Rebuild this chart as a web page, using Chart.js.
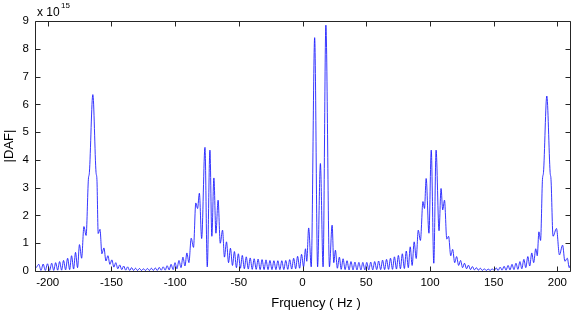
<!DOCTYPE html>
<html>
<head>
<meta charset="utf-8">
<script src="https://cdn.jsdelivr.net/npm/chart.js@4/dist/chart.umd.min.js"></script>
<style>
  html, body { margin: 0; padding: 0; background: #fff; }
  #grafico { display: block; }
</style>
</head>
<body>
<canvas id="grafico" width="572" height="310"></canvas>
<script>
// frecuencia (Hz) y |DAF| en unidades de 1e15
const freqHz = [
  -209.0, -207.0, -205.3, -203.6, -201.9, -200.2, -198.5, -196.9, -195.3, -193.8,
  -192.2, -190.7, -189.1, -187.6, -186.0, -184.4, -182.8, -181.3, -179.7, -178.2,
  -176.6, -175.1, -173.4, -171.6, -169.9, -168.1, -167.3, -164.6, -162.1, -161.4,
  -160.4, -159.0, -157.5, -155.9, -154.3, -152.8, -151.2, -149.7, -148.1, -146.6,
  -145.0, -143.5, -141.9, -140.4, -138.8, -137.3, -135.7, -134.2, -132.6, -131.1,
  -129.5, -128.0, -126.4, -124.9, -123.3, -121.8, -120.2, -118.7, -117.1, -115.6,
  -114.0, -112.5, -110.9, -109.4, -107.8, -106.3, -104.7, -103.2, -101.6, -100.1,
  -98.6, -97.0, -95.4, -93.9, -92.3, -90.8, -89.2, -87.4, -85.6, -83.8,
  -82.4, -81.0, -79.2, -76.6, -74.8, -72.7, -71.2, -69.6, -68.0, -66.3,
  -64.6, -62.8, -61.3, -59.7, -58.1, -56.6, -55.0, -53.5, -51.9, -50.4,
  -48.8, -47.3, -45.7, -44.2, -42.6, -41.1, -39.5, -38.0, -36.4, -34.9,
  -33.3, -31.8, -30.2, -28.7, -27.1, -25.6, -24.0, -22.5, -20.9, -19.4,
  -17.8, -16.3, -14.7, -13.2, -11.6, -10.1, -8.5, -7.0, -5.4, -3.9,
  -2.3, -0.8, 0.8, 2.3, 3.3, 4.8, 6.8, 9.5, 11.8, 14.0,
  16.1, 18.3, 21.1, 23.2, 24.5, 25.8, 27.3, 28.9, 30.3, 31.8,
  33.4, 34.9, 36.5, 38.0, 39.6, 41.1, 42.7, 44.2, 45.8, 47.3,
  48.9, 50.4, 52.0, 53.5, 55.1, 56.6, 58.2, 59.7, 61.3, 62.8,
  64.4, 65.9, 67.5, 69.0, 70.6, 72.1, 73.7, 75.2, 76.8, 78.3,
  79.9, 81.4, 83.0, 84.5, 86.0, 87.6, 89.2, 90.8, 92.5, 94.5,
  95.7, 97.0, 99.2, 101.0, 103.0, 104.8, 107.1, 108.7, 110.0, 111.4,
  113.2, 114.6, 116.3, 117.8, 119.4, 120.9, 122.5, 124.0, 125.6, 127.1,
  128.7, 130.2, 131.8, 133.3, 134.9, 136.4, 138.0, 139.5, 141.1, 142.6,
  144.2, 145.7, 147.3, 148.8, 150.4, 152.0, 153.5, 155.1, 156.6, 158.2,
  159.7, 161.3, 162.8, 164.4, 165.9, 167.5, 169.0, 170.6, 172.1, 173.7,
  175.2, 176.8, 178.3, 179.9, 181.4, 183.0, 184.2, 185.5, 186.8, 188.3,
  189.1, 191.7, 194.3, 195.0, 196.6, 199.3, 201.6, 204.1, 205.9, 207.8,
  209.3, 210.0
];

const dafE15 = [
  0.12, 0.24, 0.02, 0.25, 0.02, 0.26, 0.02, 0.28, 0.02, 0.30,
  0.03, 0.34, 0.03, 0.38, 0.04, 0.46, 0.05, 0.55, 0.07, 0.67,
  0.12, 0.95, 0.46, 1.60, 1.28, 3.30, 3.55, 6.35, 3.55, 3.30,
  1.35, 1.50, 0.62, 0.83, 0.36, 0.55, 0.24, 0.40, 0.14, 0.30,
  0.08, 0.22, 0.05, 0.18, 0.03, 0.15, 0.02, 0.12, 0.02, 0.10,
  0.02, 0.09, 0.02, 0.08, 0.02, 0.09, 0.02, 0.10, 0.02, 0.11,
  0.02, 0.13, 0.03, 0.15, 0.03, 0.19, 0.04, 0.24, 0.05, 0.30,
  0.08, 0.38, 0.12, 0.50, 0.18, 0.65, 0.30, 1.18, 0.85, 2.45,
  2.25, 2.80, 1.17, 4.45, 0.15, 4.35, 1.25, 3.35, 1.36, 2.55,
  1.00, 1.47, 0.50, 1.05, 0.30, 0.82, 0.20, 0.70, 0.12, 0.62,
  0.10, 0.56, 0.08, 0.51, 0.07, 0.47, 0.06, 0.44, 0.06, 0.43,
  0.05, 0.41, 0.05, 0.40, 0.05, 0.38, 0.05, 0.37, 0.05, 0.37,
  0.05, 0.37, 0.05, 0.38, 0.06, 0.41, 0.07, 0.46, 0.08, 0.53,
  0.10, 0.60, 0.15, 0.80, 0.35, 1.55, 0.15, 8.40, 0.15, 3.87,
  0.15, 8.85, 0.15, 1.65, 0.30, 0.75, 0.10, 0.50, 0.06, 0.44,
  0.05, 0.37, 0.04, 0.34, 0.04, 0.32, 0.04, 0.31, 0.04, 0.31,
  0.04, 0.31, 0.04, 0.32, 0.04, 0.34, 0.05, 0.36, 0.05, 0.39,
  0.05, 0.42, 0.06, 0.46, 0.06, 0.51, 0.07, 0.56, 0.08, 0.62,
  0.09, 0.72, 0.12, 0.87, 0.20, 1.05, 0.45, 1.47, 1.10, 2.50,
  2.25, 3.33, 1.36, 4.35, 0.28, 4.35, 1.45, 2.97, 2.20, 2.55,
  1.15, 1.25, 0.55, 0.78, 0.30, 0.52, 0.20, 0.38, 0.12, 0.28,
  0.08, 0.21, 0.05, 0.16, 0.04, 0.12, 0.03, 0.10, 0.02, 0.08,
  0.02, 0.07, 0.02, 0.08, 0.02, 0.11, 0.02, 0.14, 0.03, 0.17,
  0.03, 0.20, 0.04, 0.24, 0.05, 0.28, 0.06, 0.34, 0.08, 0.42,
  0.12, 0.52, 0.18, 0.65, 0.30, 0.80, 0.55, 1.41, 1.10, 3.30,
  3.55, 6.30, 3.55, 3.30, 1.25, 1.53, 0.58, 0.93, 0.35, 0.46,
  0.12, 0.20
];

const xTicks = [-200, -150, -100, -50, 0, 50, 100, 150, 200];
const yTicks = [0, 1, 2, 3, 4, 5, 6, 7, 8, 9];

const fuente = "'Liberation Sans', Arial, Helvetica, sans-serif";

// caja estilo matlab con marcas hacia dentro
const cajaEjes = {
  id: "cajaEjes",
  afterDatasetsDraw(chart) {
    const { ctx, chartArea: a, scales } = chart;
    const izq = Math.floor(a.left) + 0.5;
    const der = Math.floor(a.right) + 0.5;
    const arr = Math.floor(a.top) + 0.5;
    const aba = Math.floor(a.bottom) + 0.5;
    const largo = 5;

    ctx.save();
    ctx.strokeStyle = "#262626";
    ctx.lineWidth = 1;
    ctx.beginPath();
    ctx.moveTo(izq, arr); ctx.lineTo(der, arr); ctx.lineTo(der, aba);
    ctx.lineTo(izq, aba); ctx.closePath();

    scales.x.ticks.forEach((t) => {
      const px = Math.round(scales.x.getPixelForValue(t.value)) + 0.5;
      ctx.moveTo(px, aba); ctx.lineTo(px, aba - largo);
      ctx.moveTo(px, arr); ctx.lineTo(px, arr + largo);
    });
    scales.y.ticks.forEach((t) => {
      const py = Math.round(scales.y.getPixelForValue(t.value)) + 0.5;
      ctx.moveTo(izq, py); ctx.lineTo(izq + largo, py);
      ctx.moveTo(der, py); ctx.lineTo(der - largo, py);
    });
    ctx.stroke();
    ctx.restore();
  },
  afterDraw(chart) {
    const { ctx } = chart;
    ctx.save();
    ctx.fillStyle = "#000";
    ctx.textBaseline = "alphabetic";
    ctx.textAlign = "left";
    ctx.font = "12px " + fuente;
    ctx.fillText("x 10", 37, 15.5);
    ctx.font = "8px " + fuente;
    ctx.fillText("15", 61, 8);
    ctx.font = "13px " + fuente;
    ctx.textAlign = "center";
    ctx.fillText("Frquency ( Hz )", 316, 306.5);
    ctx.restore();
  }
};

new Chart(document.getElementById("grafico").getContext("2d"), {
  type: "line",
  data: {
    datasets: [{
      label: "|DAF|",
      data: freqHz.map((f, i) => ({ x: f, y: dafE15[i] })),
      borderColor: "rgba(20, 20, 255, 0.85)",
      borderWidth: 1,
      pointRadius: 0,
      fill: false,
      cubicInterpolationMode: "monotone"
    }]
  },
  options: {
    responsive: false,
    animation: false,
    devicePixelRatio: 1,
    layout: { padding: { top: 21, right: 1, left: 0, bottom: 0 } },
    plugins: { legend: { display: false }, tooltip: { enabled: false } },
    scales: {
      x: {
        type: "linear",
        min: -210,
        max: 210,
        afterBuildTicks: (s) => { s.ticks = xTicks.map((v) => ({ value: v })); },
        afterFit: (s) => { s.height = 39; },
        grid: { display: false, drawTicks: false },
        border: { display: false },
        ticks: {
          padding: 5,
          color: "#000",
          font: { family: fuente, size: 11.5 },
          maxRotation: 0,
          callback: (v) => String(v)
        }
      },
      y: {
        min: 0,
        max: 9,
        afterBuildTicks: (s) => { s.ticks = yTicks.map((v) => ({ value: v })); },
        afterFit: (s) => { s.width = 35; },
        grid: { display: false, drawTicks: false },
        border: { display: false },
        ticks: {
          padding: 6,
          color: "#000",
          font: { family: fuente, size: 11.5 },
          callback: (v) => String(v)
        },
        title: {
          display: true,
          text: "|DAF|",
          color: "#000",
          font: { family: fuente, size: 13 },
          padding: { top: 2, bottom: 0 }
        }
      }
    }
  },
  plugins: [cajaEjes]
});
</script>
</body>
</html>
